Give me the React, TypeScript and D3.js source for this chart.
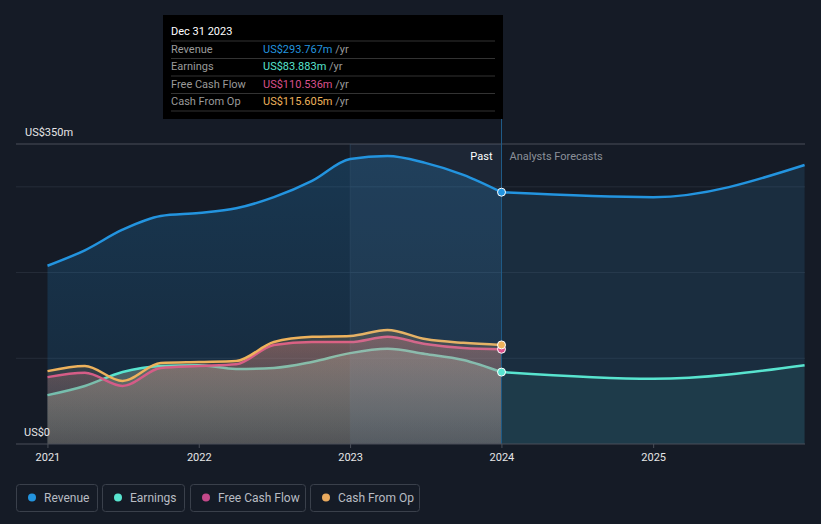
import * as d3 from "d3";

const pastDates = [
  "2020-12-31", "2021-03-31", "2021-06-30", "2021-09-30", "2021-12-31",
  "2022-03-31", "2022-06-30", "2022-09-30", "2022-12-31", "2023-03-31",
  "2023-06-30", "2023-09-30", "2023-12-31",
];
const forecastDates = ["2023-12-31", "2024-12-31", "2025-12-31"];

// US$ millions, trailing twelve months
const revenuePast = [208, 226, 250, 266, 269.5, 275, 288, 307, 332.5, 336, 328, 314, 293.767];
const earningsPast = [57, 67.7, 84, 91, 92, 87.5, 88.7, 95.7, 106, 111, 105, 98, 83.883];
const fcfPast = [78, 83, 67.7, 88.7, 91, 93, 115.5, 119, 119, 125, 116.7, 112, 110.536];
const cfoPast = [85, 91, 73.5, 94.5, 95.7, 96.8, 119, 125, 126, 133, 122.5, 118, 115.605];

const revenueForecast = [293.767, 288, 325.5];
const earningsForecast = [83.883, 76, 92];

const yearTicks = ["2021", "2022", "2023", "2024", "2025"];
const yTickValues = [0, 100, 200, 300, 350];

const tooltipRows = [
  { label: "Revenue", value: "US$293.767m", color: "#2394df" },
  { label: "Earnings", value: "US$83.883m", color: "#58e4cf" },
  { label: "Free Cash Flow", value: "US$110.536m", color: "#d9508c" },
  { label: "Cash From Op", value: "US$115.605m", color: "#eeb25c" },
];

const legendItems = [
  { label: "Revenue", color: "#2394df" },
  { label: "Earnings", color: "#58e4cf" },
  { label: "Free Cash Flow", color: "#c4498a" },
  { label: "Cash From Op", color: "#e8a95e" },
];

const W = 821;
const H = 524;
const FONT = "Roboto, 'Noto Sans', sans-serif";

type Pt = { d: Date; v: number };
const toPts = (dates: string[], vals: number[]): Pt[] =>
  dates.map((s, i) => ({ d: new Date(s + "T00:00:00"), v: vals[i] }));

export default function App() {
  const x = d3
    .scaleTime()
    .domain([new Date(2020, 9, 16), new Date(2026, 0, 1)])
    .range([16, 805]);
  const y = d3.scaleLinear().domain([0, 350]).range([444, 144]);

  const line = d3
    .line<Pt>()
    .x((p) => x(p.d))
    .y((p) => y(p.v))
    .curve(d3.curveMonotoneX);
  const area = d3
    .area<Pt>()
    .x((p) => x(p.d))
    .y0(y(0))
    .y1((p) => y(p.v))
    .curve(d3.curveMonotoneX);

  const rev = toPts(pastDates, revenuePast);
  const earn = toPts(pastDates, earningsPast);
  const fcf = toPts(pastDates, fcfPast);
  const cfo = toPts(pastDates, cfoPast);
  const revF = toPts(forecastDates, revenueForecast);
  const earnF = toPts(forecastDates, earningsForecast);

  const nowX = x(new Date("2023-12-31T00:00:00"));
  const hlX = x(new Date("2022-12-31T00:00:00"));
  const last = (arr: Pt[]) => arr[arr.length - 1];

  const legendX = [16, 102, 190, 310];
  const legendW = [81, 82, 115, 109];

  return (
    <div style={{ position: "fixed", left: 0, top: 0, width: W, height: H }}>
      <svg width={W} height={H} style={{ display: "block", background: "#151b26" }} fontFamily={FONT}>
        <defs>
          <linearGradient id="revGrad" x1="0" y1="0" x2="0" y2="1">
            <stop offset="0" stopColor="#2394df" stopOpacity={0.23} />
            <stop offset="1" stopColor="#2394df" stopOpacity={0.11} />
          </linearGradient>
          <linearGradient id="cfoGrad" x1="0" y1="0" x2="0" y2="1">
            <stop offset="0" stopColor="#eeb25c" stopOpacity={0.2} />
            <stop offset="1" stopColor="#808080" stopOpacity={0.1} />
          </linearGradient>
          <linearGradient id="fcfGrad" x1="0" y1="0" x2="0" y2="1">
            <stop offset="0" stopColor="#e17387" stopOpacity={0.33} />
            <stop offset="1" stopColor="#6a6a6a" stopOpacity={0.2} />
          </linearGradient>
          <linearGradient id="earnGrad" x1="0" y1="0" x2="0" y2="1">
            <stop offset="0" stopColor="#86aaa0" stopOpacity={0.4} />
            <stop offset="1" stopColor="#4c4c4e" stopOpacity={0.88} />
          </linearGradient>
        </defs>

        {/* gridlines */}
        {yTickValues.slice(1).map((t) => (
          <line key={t} x1={16} x2={805} y1={y(t)} y2={y(t)} stroke={t === 350 ? "#4a4f58" : "#262d39"} strokeWidth={1} />
        ))}

        {/* revenue areas */}
        <path d={area(rev) ?? ""} fill="url(#revGrad)" />
        <path d={area(revF) ?? ""} fill="#2e6f9a" opacity={0.22} />
        <path d={area(earnF) ?? ""} fill="#58e4cf" opacity={0.08} />
        <line x1={hlX} x2={hlX} y1={y(350)} y2={y(0)} stroke="#2a4660" strokeWidth={1} opacity={0.6} />

        {/* past stacked areas and lines */}
        <path d={area(earn) ?? ""} fill="url(#earnGrad)" />
        <path d={line(earn) ?? ""} fill="none" stroke="#58e4cf" strokeWidth={2.5} />
        <path d={area(fcf) ?? ""} fill="url(#fcfGrad)" />
        <path d={line(fcf) ?? ""} fill="none" stroke="#d9508c" strokeWidth={2.5} />
        <path d={area(cfo) ?? ""} fill="url(#cfoGrad)" />
        <path d={line(cfo) ?? ""} fill="none" stroke="#eeb25c" strokeWidth={2.5} />

        {/* highlighted period */}
        <rect x={hlX} y={y(350)} width={nowX - hlX} height={y(0) - y(350)} fill="#7fb2e0" opacity={0.08} />

        <path d={line(rev) ?? ""} fill="none" stroke="#2394df" strokeWidth={2.5} />
        <path d={line(revF) ?? ""} fill="none" stroke="#2394df" strokeWidth={2.5} />
        <path d={line(earnF) ?? ""} fill="none" stroke="#58e4cf" strokeWidth={2.5} />

        {/* now line */}
        <line x1={nowX} x2={nowX} y1={119} y2={y(0)} stroke="#1f5a86" strokeWidth={1} />

        {/* end points */}
        {[
          { p: last(rev), c: "#2394df" },
          { p: last(earn), c: "#58e4cf" },
          { p: last(fcf), c: "#d9508c" },
          { p: last(cfo), c: "#eeb25c" },
        ].map((o, i) => (
          <circle key={i} cx={x(o.p.d)} cy={y(o.p.v)} r={4} fill={o.c} stroke="#ffffff" strokeWidth={1} />
        ))}

        {/* axis */}
        <line x1={16} x2={805} y1={y(0)} y2={y(0)} stroke="#4a4f58" strokeWidth={1} />
        {yearTicks.map((t) => {
          const tx = x(new Date(+t, 0, 1));
          return (
            <g key={t}>
              <line x1={tx} x2={tx} y1={y(0)} y2={y(0) + 4} stroke="#4a4f58" />
              <text x={tx} y={461} fill="#e6e6e6" fontSize={11} textAnchor="middle">{t}</text>
            </g>
          );
        })}
        <text x={25} y={136} fill="#e6e6e6" fontSize={11}>US$350m</text>
        <text x={24} y={436} fill="#e6e6e6" fontSize={11}>US$0</text>

        <text x={nowX - 9} y={160} fill="#ffffff" fontSize={11} textAnchor="end">Past</text>
        <text x={nowX + 8} y={160} fill="#8b9099" fontSize={11}>Analysts Forecasts</text>

        {/* tooltip */}
        <rect x={163} y={15} width={340} height={104} fill="#000000" />
        <text x={171} y={34.5} fill="#ffffff" fontSize={11}>Dec 31 2023</text>
        {tooltipRows.map((r, i) => {
          const ry = 41 + i * 17.5;
          return (
            <g key={r.label}>
              <line x1={171} x2={495} y1={ry} y2={ry} stroke="#333333" />
              <text x={171} y={ry + 11.8} fill="#9a9a9a" fontSize={11}>{r.label}</text>
              <text x={263} y={ry + 11.8} fontSize={11}>
                <tspan fill={r.color}>{r.value}</tspan>
                <tspan fill="#9a9a9a"> /yr</tspan>
              </text>
            </g>
          );
        })}
        <line x1={171} x2={495} y1={111} y2={111} stroke="#333333" />

        {/* legend */}
        {legendItems.map((l, i) => (
          <g key={l.label}>
            <rect x={legendX[i] + 0.5} y={484.5} width={legendW[i]} height={27} rx={3} fill="none" stroke="#3a404b" />
            <circle cx={legendX[i] + 16} cy={497.5} r={4} fill={l.color} />
            <text x={legendX[i] + 28} y={501.5} fill="#b8bcc3" fontSize={12}>{l.label}</text>
          </g>
        ))}
      </svg>
    </div>
  );
}
